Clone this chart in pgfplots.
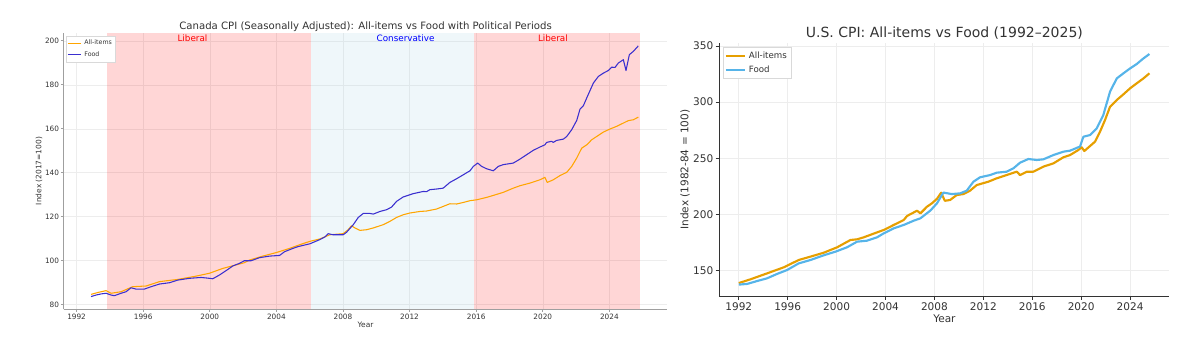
\documentclass[border=0pt]{standalone}
\usepackage{pgfplots}
\pgfplotsset{compat=1.18}
\usepackage{fontspec}
\setmainfont{DejaVu Sans}
\definecolor{caorange}{HTML}{FFA500}
\definecolor{cablue}{HTML}{3A2FCF}
\definecolor{conblue}{HTML}{ADD8E6}
\definecolor{usorange}{HTML}{E69F00}
\definecolor{usblue}{HTML}{56B4E9}
\definecolor{txt}{HTML}{333333}

\pgfplotstableread{
x y
1992.87 84.7
1993.30 85.6
1993.77 86.4
1994.07 85.2
1994.67 85.9
1995.37 88.2
1996.17 88.5
1996.98 90.5
1998.08 91.5
1999.18 93.0
1999.98 94.3
2000.78 96.5
2001.58 98.1
2002.08 99.1
2002.38 100.3
2003.18 102.1
2003.99 103.7
2004.79 105.6
2005.41 107.3
2006.01 108.8
2006.61 109.9
2007.21 111.8
2008.01 112.3
2008.31 114.1
2008.51 115.9
2008.72 114.9
2009.02 113.8
2009.42 114.1
2009.82 114.9
2010.42 116.4
2010.82 117.9
2011.22 119.7
2011.62 120.9
2012.02 121.7
2012.62 122.4
2013.02 122.6
2013.62 123.5
2014.02 124.7
2014.42 125.9
2014.83 125.8
2015.23 126.5
2015.63 127.3
2016.03 127.7
2016.63 128.8
2017.03 129.7
2017.63 131.1
2018.23 133.0
2018.63 134.1
2019.23 135.3
2019.83 136.8
2020.13 137.9
2020.27 135.6
2020.63 136.8
2021.03 138.7
2021.44 140.2
2021.74 142.9
2022.04 146.7
2022.34 151.2
2022.64 152.7
2022.94 155.0
2023.24 156.5
2023.64 158.5
2024.04 159.9
2024.44 161.1
2024.84 162.6
2025.14 163.7
2025.44 164.1
2025.74 165.3
}\caall

\pgfplotstableread{
x y
1992.87 83.7
1993.17 84.4
1993.47 84.9
1993.77 85.2
1994.07 84.4
1994.27 84.1
1994.67 85.2
1994.97 85.9
1995.27 87.7
1995.57 87.1
1996.07 87.1
1996.48 88.2
1996.98 89.4
1997.58 90.0
1998.08 91.2
1998.78 92.0
1999.48 92.4
1999.98 92.0
2000.18 91.8
2000.58 93.5
2000.98 95.5
2001.38 97.6
2001.78 98.8
2002.08 100.0
2002.48 100.0
2002.99 101.4
2003.59 102.1
2004.19 102.4
2004.49 104.1
2004.99 105.6
2005.29 106.4
2006.01 107.7
2006.61 109.6
2006.91 110.8
2007.11 112.3
2007.41 111.8
2008.01 111.8
2008.21 112.9
2008.62 116.4
2008.92 119.7
2009.22 121.5
2009.62 121.5
2009.82 121.2
2010.22 122.4
2010.62 123.2
2010.92 124.4
2011.22 127.0
2011.62 129.0
2012.22 130.5
2012.82 131.5
2013.02 131.4
2013.22 132.3
2013.62 132.6
2014.02 133.0
2014.42 135.6
2014.83 137.3
2015.23 139.1
2015.63 140.9
2015.83 142.9
2016.09 144.4
2016.33 142.9
2016.63 141.8
2017.03 140.9
2017.33 142.9
2017.63 143.7
2018.23 144.4
2018.63 146.2
2019.03 148.2
2019.43 150.2
2019.83 151.7
2020.13 152.7
2020.23 153.8
2020.53 154.3
2020.63 153.8
2020.83 154.7
2021.24 155.3
2021.44 156.5
2021.74 159.6
2022.04 163.8
2022.24 169.0
2022.44 170.5
2022.64 174.0
2023.04 180.8
2023.34 183.8
2023.64 185.3
2023.94 186.5
2024.14 188.0
2024.34 187.9
2024.54 189.9
2024.84 191.4
2025.00 186.5
2025.20 193.7
2025.44 195.2
2025.74 197.7
}\cafood

\pgfplotstableread{
x y
1992.00 139.0
1992.95 142.3
1994.31 147.6
1995.68 153.0
1996.90 159.5
1997.86 162.5
1998.95 166.0
2000.04 170.8
2001.13 177.3
2001.67 177.9
2002.22 179.7
2003.31 184.1
2003.85 186.2
2004.67 190.7
2005.49 195.1
2005.76 198.7
2006.58 203.4
2006.85 201.0
2007.40 207.0
2007.80 210.0
2008.21 214.0
2008.55 219.4
2008.85 212.2
2009.28 212.9
2009.82 217.3
2010.37 218.2
2010.91 221.2
2011.46 226.2
2012.41 229.2
2013.09 232.2
2013.91 235.1
2014.73 238.1
2015.00 235.1
2015.55 238.1
2016.09 238.1
2016.91 242.6
2017.73 245.5
2018.54 250.9
2019.09 252.9
2019.77 257.4
2020.04 259.8
2020.26 256.5
2020.72 260.9
2021.13 264.8
2021.54 273.7
2021.95 284.1
2022.36 295.9
2022.91 301.9
2023.45 306.9
2024.00 312.3
2024.54 316.7
2025.09 321.1
2025.58 325.6
}\usall

\pgfplotstableread{
x y
1992.00 137.6
1992.68 138.2
1993.50 140.8
1994.31 143.2
1995.13 147.1
1995.95 150.6
1996.90 156.5
1997.86 159.5
1998.95 163.7
1999.90 166.9
2000.85 170.8
2001.67 175.8
2002.49 176.7
2003.31 179.7
2003.85 183.2
2004.67 187.7
2005.49 190.7
2006.31 194.5
2006.85 196.6
2007.67 203.5
2008.21 210.0
2008.73 219.5
2009.41 218.2
2010.10 218.8
2010.64 221.2
2011.19 229.2
2011.73 233.1
2012.55 235.1
2013.09 237.2
2013.91 238.1
2014.46 241.1
2015.00 246.1
2015.68 249.4
2016.36 248.5
2016.91 249.1
2017.73 252.9
2018.54 255.9
2019.09 256.8
2019.91 260.5
2020.18 269.2
2020.72 270.7
2021.27 276.7
2021.81 288.5
2022.36 309.3
2022.91 321.1
2023.45 325.6
2024.00 330.0
2024.54 333.9
2025.09 338.9
2025.58 342.8
}\usfood

\begin{document}
\begin{tikzpicture}
\path[use as bounding box] (0,0) rectangle (900pt,256.5pt);

% ---------------- Canada ----------------
\begin{axis}[
  at={(47.7pt,24.5pt)}, anchor=south west,
  scale only axis, width=452.9pt, height=207.5pt,
  xmin=1991.22, xmax=2027.49, ymin=77.9, ymax=203.7,
  axis x line=bottom, axis y line=left,
  axis line style={-, draw=gray!75, line width=0.7pt},
  xtick={1992,1996,...,2024}, ytick={80,100,...,200},
  tick align=outside, major tick length=2pt,
  tick style={draw=gray!75, line width=0.5pt},
  grid=major, major grid style={draw=gray!14, line width=0.4pt},
  ticklabel style={font=\fontsize{5.5}{6.5}\selectfont, text=txt},
  xticklabel style={inner sep=1.2pt},
  yticklabel style={inner sep=1.2pt},
  /pgf/number format/1000 sep={},
  /pgf/number format/assume math mode=true,
  title={Canada CPI (Seasonally Adjusted): All-items vs Food with Political Periods},
  title style={font=\fontsize{7.6}{9}\selectfont, text=txt, at={(axis description cs:0.5,1.0116)}, anchor=base, yshift=-6pt},
  xlabel={Year},
  xlabel style={font=\fontsize{5.6}{6.5}\selectfont, text=txt, at={(axis description cs:0.5,-0.0569)}, anchor=center},
  ylabel={Index (2017=100)},
  ylabel style={font=\fontsize{5.6}{6.5}\selectfont, text=txt, at={(axis description cs:-0.0406,0.5)}, anchor=center},
  legend style={at={(axis description cs:0.004,0.988)}, anchor=north west,
    font=\fontsize{4.7}{5.5}\selectfont, text=txt, draw=gray!30, fill=white,
    inner sep=0.8pt, row sep=-0.6pt, legend cell align=left},
  legend image code/.code={\draw[#1] (0pt,0pt) -- (10pt,0pt);},
]
\addplot[forget plot, draw=none, fill=red, fill opacity=0.16]
  coordinates {(1993.85,77.9) (2006.10,77.9) (2006.10,203.7) (1993.85,203.7)};
\addplot[forget plot, draw=none, fill=conblue, fill opacity=0.2]
  coordinates {(2006.10,77.9) (2015.87,77.9) (2015.87,203.7) (2006.10,203.7)};
\addplot[forget plot, draw=none, fill=red, fill opacity=0.16]
  coordinates {(2015.87,77.9) (2025.83,77.9) (2025.83,203.7) (2015.87,203.7)};
\addplot[caorange, line width=0.8pt, line join=round] table[x=x,y=y] {\caall};
\addlegendentry{All-items}
\addplot[cablue, line width=0.8pt, line join=round] table[x=x,y=y] {\cafood};
\addlegendentry{Food}
\node[font=\fontsize{6.6}{7.5}\selectfont, text=red] at (axis cs:1998.96,201.2) {Liberal};
\node[font=\fontsize{6.6}{7.5}\selectfont, text=blue] at (axis cs:2011.76,201.2) {Conservative};
\node[font=\fontsize{6.6}{7.5}\selectfont, text=red] at (axis cs:2020.61,201.2) {Liberal};
\end{axis}

% ---------------- U.S. ----------------
\begin{axis}[
  at={(539.5pt,34.35pt)}, anchor=south west,
  scale only axis, width=337.6pt, height=189.8pt,
  xmin=1990.41, xmax=2027.22, ymin=127.3, ymax=352.5,
  axis x line=bottom, axis y line=left,
  axis line style={-, draw=txt, line width=0.8pt},
  xtick={1992,1996,...,2024}, ytick={150,200,...,350},
  tick align=outside, major tick length=2.8pt,
  tick style={draw=txt, line width=0.6pt},
  grid=major, major grid style={draw=gray!14, line width=0.5pt},
  ticklabel style={font=\fontsize{7.9}{9}\selectfont, text=txt},
  xticklabel style={inner sep=1.6pt},
  yticklabel style={inner sep=1.6pt},
  /pgf/number format/1000 sep={},
  /pgf/number format/assume math mode=true,
  title={U.S. CPI: All-items vs Food (1992–2025)},
  title style={font=\fontsize{10.5}{12}\selectfont, text=txt, at={(axis description cs:0.5,1.0227)}, anchor=base, yshift=-6pt},
  xlabel={Year},
  xlabel style={font=\fontsize{7.9}{9}\selectfont, text=txt, at={(axis description cs:0.5,-0.0875)}, anchor=center},
  ylabel={Index (1982-84 = 100)},
  ylabel style={font=\fontsize{7.9}{9}\selectfont, text=txt, at={(axis description cs:-0.0761,0.5)}, anchor=center},
  legend style={at={(axis description cs:0.008,0.985)}, anchor=north west,
    font=\fontsize{6.5}{7.5}\selectfont, text=txt, draw=gray!30, fill=white,
    inner sep=1.2pt, row sep=0.2pt, legend cell align=left},
  legend image code/.code={\draw[#1] (0pt,0pt) -- (14.5pt,0pt);},
]
\addplot[usorange, line width=1.6pt, line join=round] table[x=x,y=y] {\usall};
\addlegendentry{All-items}
\addplot[usblue, line width=1.6pt, line join=round] table[x=x,y=y] {\usfood};
\addlegendentry{Food}
\end{axis}
\end{tikzpicture}
\end{document}
